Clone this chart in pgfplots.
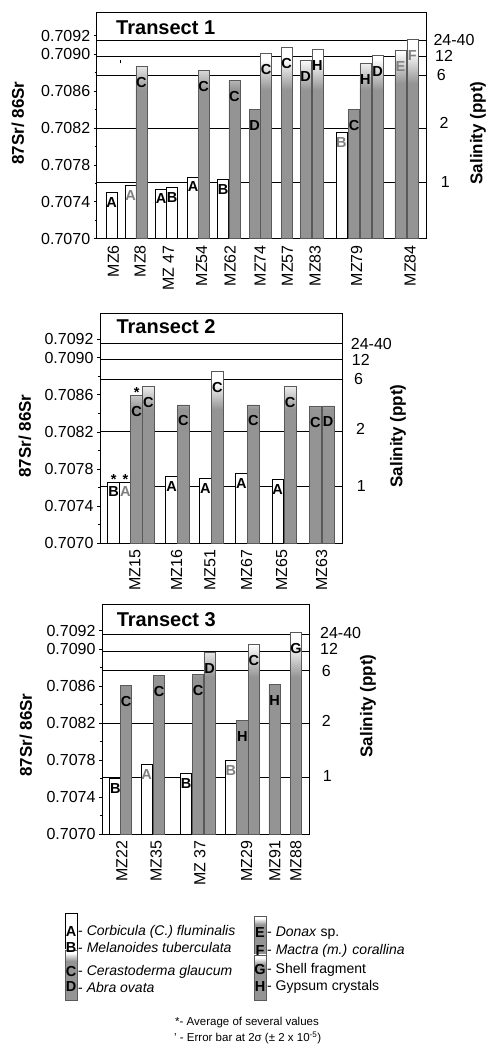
\documentclass[border=0pt]{standalone}
\usepackage{pgfplots}
\pgfplotsset{compat=1.18}
\usepackage{fontspec}
\setmainfont{Liberation Sans}
\definecolor{barg}{RGB}{148,148,148}
\pgfdeclareverticalshading{barshade}{100bp}{color(0bp)=(barg); color(25bp)=(barg); color(64bp)=(barg); color(72bp)=(white); color(100bp)=(white)}
\newcommand\tickfont{\fontsize{16}{18}\selectfont}
\newcommand\labfont{\fontsize{17}{19}\selectfont\bfseries}
\newcommand\titfont{\fontsize{20}{22}\selectfont\bfseries}
\newcommand\letfont{\fontsize{14.5}{16}\selectfont\bfseries}
\newcommand\legfont{\fontsize{14}{16}\selectfont}
\newcommand\notefont{\fontsize{11.5}{13}\selectfont}
\pgfplotsset{
  transect/.style={
    scale only axis, clip=false, anchor=south west,
    y filter/.expression={(y-0.707)*10000},
    ymin=0,
    ytick={0,4,8,12,16,20,22},
    yticklabels={0.7070,0.7074,0.7078,0.7082,0.7086,0.7090,0.7092},
    minor ytick={2,6,10,14,18},
    ytick pos=left,
    tick align=outside,
    major tick length=3pt, minor tick length=2pt,
    every tick/.style={black, line width=0.6pt},
    xtick style={draw=none},
    xticklabel style={rotate=90, anchor=east, font=\tickfont},
    yticklabel style={font=\tickfont},
    axis line style={line width=0.8pt},
  },
  wbar/.style={ybar, bar width=33, bar shift=0, fill=white, draw=black, line width=0.7pt,
    nodes near coords, point meta=explicit symbolic,
    every node near coord/.style={anchor=center, yshift=-10pt, font=\letfont, inner sep=0.5pt}},
  gbar/.style={ybar, bar width=33, bar shift=0, shade, shading=barshade, draw=black!65, line width=0.7pt,
    nodes near coords, point meta=explicit symbolic,
    every node near coord/.style={anchor=center, yshift=-16pt, font=\letfont, inner sep=0.5pt}},
  greylet/.style={every node near coord/.append style={text=black!50}},
  sal/.style={black, line width=0.8pt, no marks},
  rlab/.style={draw=none, no marks, nodes near coords, point meta=explicit symbolic,
    every node near coord/.style={anchor=west, font=\tickfont, inner sep=0pt}},
  star/.style={draw=none, no marks, nodes near coords, point meta=explicit symbolic,
    every node near coord/.style={anchor=base, yshift=-2pt, font=\letfont, inner sep=0pt}},
}
\begin{document}
\begin{tikzpicture}[x=1pt,y=1pt]
\useasboundingbox (0,0) rectangle (488,1054);
% ---------------- Transect 1
\begin{axis}[transect, at={(96.7pt,815.3pt)}, width=330pt, height=226pt,
  xmin=290, xmax=1280, ymax=24.5,
  xtick={340,420,505,605,690,780,862,945,1070,1230},
  xticklabels={MZ6,MZ8,MZ 47,MZ54,MZ62,MZ74,MZ57,MZ83,MZ79,MZ84}]
\addplot[sal] coordinates {(290,0.70915) (1280,0.70915)};
\addplot[sal] coordinates {(290,0.70898) (1280,0.70898)};
\addplot[sal] coordinates {(290,0.70877) (1280,0.70877)};
\addplot[sal] coordinates {(290,0.70820) (1280,0.70820)};
\addplot[sal] coordinates {(290,0.70761) (1280,0.70761)};
\addplot[wbar] coordinates {(335,0.70750)[A] (483,0.70754)[A] (516,0.70756)[B] (579,0.70767)[A] (669,0.70764)[B]};
\addplot[wbar, greylet] coordinates {(392,0.70758)[A] (1024,0.70815)[B]};
\addplot[gbar] coordinates {(424,0.70887)[C] (611,0.70882)[C] (703,0.70872)[C] (764,0.70840)[D] (798,0.70901)[C] (860,0.70907)[C] (917,0.70893)[D] (952,0.70905)[H] (1062,0.70840)[C] (1096,0.70890)[H] (1133,0.70899)[D]};
\addplot[gbar, greylet] coordinates {(1201,0.70904)[E] (1237,0.70916)[F]};
\addplot[black, line width=1pt] coordinates {(362,0.70890) (362,0.70894)};
\addplot[rlab] coordinates {(1300,0.70915)[24-40] (1305,0.70898)[12] (1310,0.70877)[6] (1318,0.70825)[2] (1322,0.70762)[1]};
\node[anchor=west, xshift=16pt, yshift=-15pt, font=\titfont] at (rel axis cs:0,1) {Transect 1};
\node[rotate=90, font=\labfont] at (rel axis cs:-0.2385,0.512) {87Sr/ 86Sr};
\node[rotate=90, font=\labfont] at (rel axis cs:1.1555,0.468) {Salinity (ppt)};
\end{axis}
% ---------------- Transect 2
\begin{axis}[transect, at={(100pt,510.7pt)}, width=242.7pt, height=230.3pt,
  xmin=300, xmax=1028, ymax=24.8,
  xtick={405,530,630,740,845,965},
  xticklabels={MZ15,MZ16,MZ51,MZ67,MZ65,MZ63}]
\addplot[sal] coordinates {(300,0.70915) (1028,0.70915)};
\addplot[sal] coordinates {(300,0.70898) (1028,0.70898)};
\addplot[sal] coordinates {(300,0.70877) (1028,0.70877)};
\addplot[sal] coordinates {(300,0.70820) (1028,0.70820)};
\addplot[sal] coordinates {(300,0.70761) (1028,0.70761)};
\addplot[wbar, bar width=35] coordinates {(341,0.70766)[B] (515,0.70772)[A] (616,0.70770)[A] (724,0.70775)[A] (833,0.70769)[A]};
\addplot[wbar, bar width=35, greylet] coordinates {(376,0.70766)[A]};
\addplot[gbar, bar width=35] coordinates {(410,0.70859)[C] (445,0.70869)[C] (550,0.70849)[C] (652,0.70885)[C] (760,0.70849)[C] (870,0.70869)[C] (946,0.70847)[C] (984,0.70848)[D]};
\addplot[star] coordinates {(341,0.70766)[*] (376,0.70766)[*] (410,0.70859)[*]};
\addplot[rlab] coordinates {(1052,0.70915)[24-40] (1055,0.70898)[12] (1062,0.70877)[6] (1068,0.70823)[2] (1070,0.70762)[1]};
\node[anchor=west, xshift=13pt, yshift=-13.5pt, font=\titfont] at (rel axis cs:0,1) {Transect 2};
\node[rotate=90, font=\labfont] at (rel axis cs:-0.309,0.466) {87Sr/ 86Sr};
\node[rotate=90, font=\labfont] at (rel axis cs:1.228,0.466) {Salinity (ppt)};
\end{axis}
% ---------------- Transect 3
\begin{axis}[transect, at={(102pt,220pt)}, width=207.3pt, height=230pt,
  xmin=306, xmax=928, ymax=24.9,
  xtick={365,468,600,740,825,888},
  xticklabels={MZ22,MZ35,MZ 37,MZ29,MZ91,MZ88}]
\addplot[sal] coordinates {(306,0.70916) (928,0.70916)};
\addplot[sal] coordinates {(306,0.70898) (928,0.70898)};
\addplot[sal] coordinates {(306,0.70877) (928,0.70877)};
\addplot[sal] coordinates {(306,0.70820) (928,0.70820)};
\addplot[sal] coordinates {(306,0.70761) (928,0.70761)};
\addplot[wbar, bar width=34] coordinates {(346,0.70760)[B] (558,0.70766)[B]};
\addplot[wbar, bar width=34, greylet] coordinates {(440,0.70775)[A] (693,0.70780)[B]};
\addplot[gbar, bar width=34] coordinates {(378,0.70861)[C] (477,0.70872)[C] (594,0.70873)[C] (629,0.70897)[D] (727,0.70823)[H] (762,0.70905)[C] (824,0.70862)[H] (888,0.70918)[G]};
\addplot[rlab] coordinates {(960,0.70918)[24-40] (960,0.70900)[12] (965,0.70877)[6] (965,0.70822)[2] (968,0.70763)[1]};
\node[anchor=west, xshift=11.3pt, yshift=-16pt, font=\titfont] at (rel axis cs:0,1) {Transect 3};
\node[rotate=90, font=\labfont] at (rel axis cs:-0.3666,0.43) {87Sr/ 86Sr};
\node[rotate=90, font=\labfont] at (rel axis cs:1.283,0.557) {Salinity (ppt)};
\end{axis}
% ---------------- Legend
\draw[black, line width=0.7pt, fill=white] (65,141) rectangle (77,104);
\shade[shading=barshade, draw=black!65, line width=0.7pt] (65,104) rectangle (77,54);
\shade[shading=barshade, draw=black!65, line width=0.7pt] (254,138) rectangle (266,99);
\shade[shading=barshade, draw=black!65, line width=0.7pt] (254,99) rectangle (266,54);
\begin{scope}[every node/.style={inner sep=0pt}]
\node[font=\letfont] at (71,122) {A};
\node[font=\letfont] at (71,106) {B};
\node[font=\letfont] at (71,82) {C};
\node[font=\letfont] at (71,67) {D};
\node[font=\letfont] at (260,121) {E};
\node[font=\letfont] at (260,103) {F};
\node[font=\letfont] at (260,84) {G};
\node[font=\letfont] at (260,67) {H};
\node[font=\legfont, anchor=west] at (78,122) {- \textit{Corbicula (C.) fluminalis}};
\node[font=\legfont, anchor=west] at (78,106) {- \textit{Melanoides tuberculata}};
\node[font=\legfont, anchor=west] at (78,82) {- \textit{Cerastoderma glaucum}};
\node[font=\legfont, anchor=west] at (78,67) {- \textit{Abra ovata}};
\node[font=\legfont, anchor=west] at (267,121) {- \textit{Donax} sp.};
\node[font=\legfont, anchor=west] at (267,103) {- \textit{Mactra (m.) corallina}};
\node[font=\legfont, anchor=west] at (267,84) {- Shell fragment};
\node[font=\legfont, anchor=west] at (267,67) {- Gypsum crystals};
\node[font=\notefont, anchor=west] at (175,31) {*- Average of several values};
\node[font=\notefont, anchor=west] at (174,16) {' - Error bar at 2σ (± 2 x 10\textsuperscript{-5})};
\end{scope}
\end{tikzpicture}
\end{document}
